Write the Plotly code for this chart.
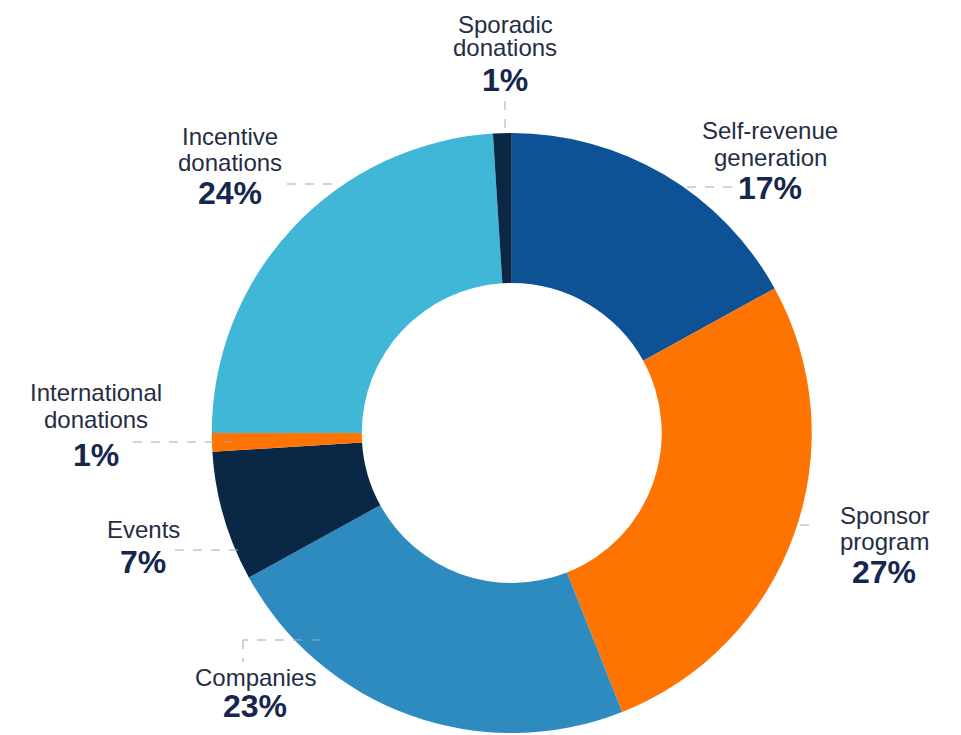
import plotly.graph_objects as go

W, H = 961, 735
OFF = 8  # page body margin

categories = ["Self-revenue generation", "Sponsor program", "Companies", "Events",
              "International donations", "Incentive donations", "Sporadic donations"]
values = [17, 27, 23, 7, 1, 24, 1]
name_lines = [["Self-revenue", "generation"], ["Sponsor", "program"], ["Companies"], ["Events"],
              ["International", "donations"], ["Incentive", "donations"], ["Sporadic", "donations"]]
colors = ["#0e5296", "#ff7300", "#2e8bbf", "#0a2845", "#ff7300", "#41b7d7", "#0a2845"]

# label layout (pixel centres): x, y of first name line, line gap, y of percentage
label_pos = [
    (770, 130, 27, 188),
    (884, 515, 26, 572),
    (255, 677, 27, 706),
    (143, 529, 27, 562),
    (96, 392, 27, 455),
    (230, 136, 26, 193),
    (505, 24, 24, 80),
]
leaders = [
    [(687, 187), (735, 187)],
    [(800, 525), (815, 525)],
    [(320, 640), (243, 640), (243, 662)],
    [(175, 550), (240, 550)],
    [(133, 442), (240, 442)],
    [(287, 184), (340, 184)],
    [(505, 101), (505, 131)],
]

def px(x):
    return (x - OFF) / W

def py(y):
    return 1 - (y - OFF) / H

fig = go.Figure(go.Pie(
    labels=categories, values=values, hole=0.5, sort=False, direction="clockwise",
    rotation=0, textinfo="none", hoverinfo="label+percent",
    marker=dict(colors=colors, line=dict(width=0)),
    domain=dict(x=[px(211.5), px(812)], y=[py(733), py(133)]),
    showlegend=False,
))

annotations = []
for lines, val, (cx, y0, gap, yp) in zip(name_lines, values, label_pos):
    for i, ln in enumerate(lines):
        annotations.append(dict(
            x=px(cx), y=py(y0 + i * gap), xref="paper", yref="paper", text=ln,
            showarrow=False, xanchor="center", yanchor="middle",
            font=dict(family="Liberation Sans, Arial", size=24, color="#242d45")))
    annotations.append(dict(
        x=px(cx), y=py(yp), xref="paper", yref="paper", text=f"<b>{val}%</b>",
        showarrow=False, xanchor="center", yanchor="middle",
        font=dict(family="Liberation Sans, Arial", size=32, color="#16264d")))

shapes = []
for pts in leaders:
    for (xa, ya), (xb, yb) in zip(pts[:-1], pts[1:]):
        shapes.append(dict(type="line", xref="paper", yref="paper",
                           x0=px(xa), y0=py(ya), x1=px(xb), y1=py(yb),
                           line=dict(color="#a8a8a8", width=1, dash="dash")))

fig.update_layout(width=W, height=H, margin=dict(l=0, r=0, t=0, b=0),
                  paper_bgcolor="white", plot_bgcolor="white",
                  annotations=annotations, shapes=shapes)

fig.write_html("out.html")
